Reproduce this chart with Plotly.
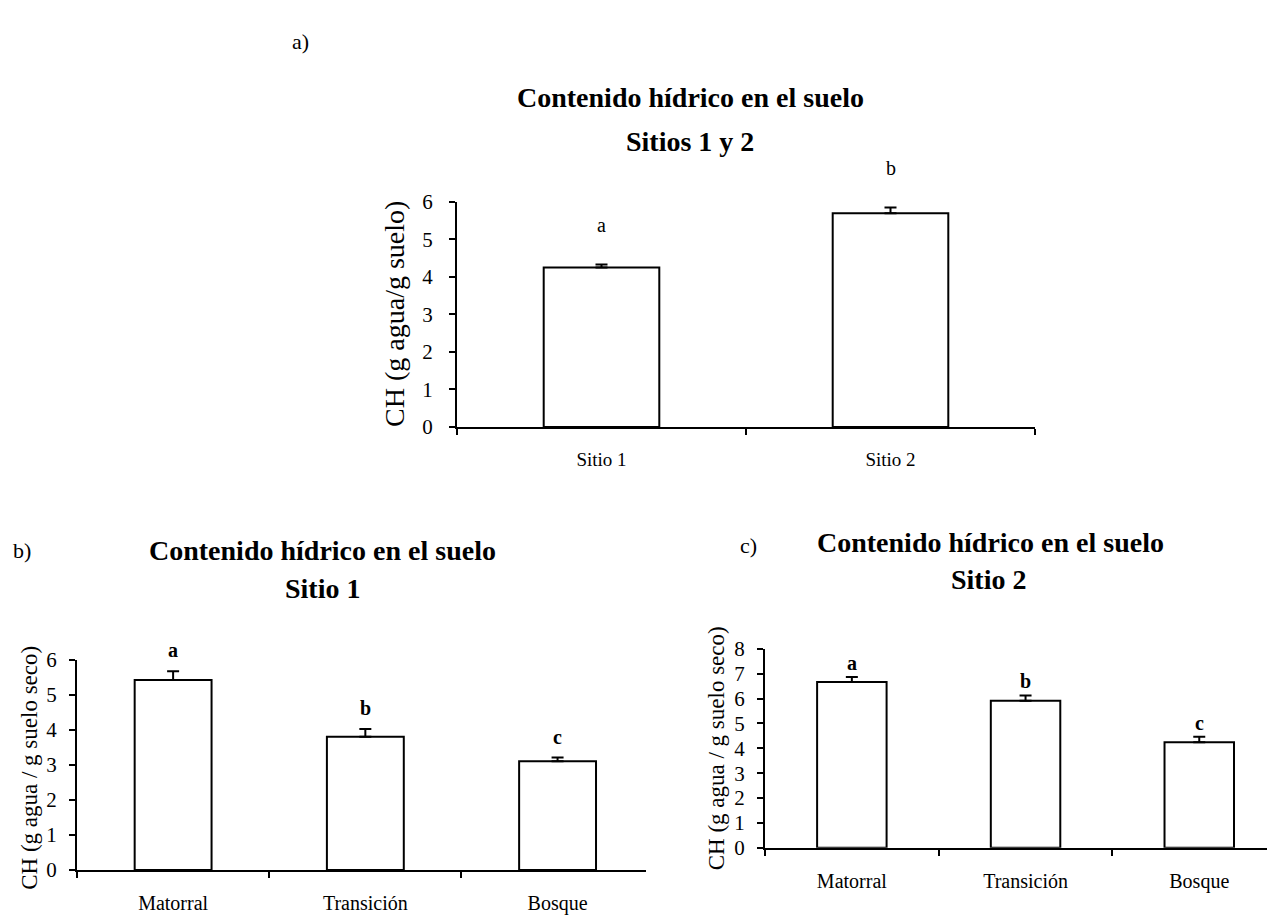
import plotly.graph_objects as go

# ---------------- data ----------------
sites = ["Sitio 1", "Sitio 2"]
ch_sites = [4.25, 5.70]
err_sites = [0.08, 0.15]
let_sites = ["a", "b"]

zones = ["Matorral", "Transición", "Bosque"]
ch_s1 = [5.42, 3.80, 3.10]
err_s1 = [0.25, 0.22, 0.11]
let_s1 = ["a", "b", "c"]

ch_s2 = [6.67, 5.92, 4.24]
err_s2 = [0.20, 0.21, 0.23]
let_s2 = ["a", "b", "c"]

FONT = "Liberation Serif, Times New Roman, serif"
W, H = 1267, 922

fig = go.Figure()

panels = [
    # x, y, err, letters, xaxis, yaxis, letter shift, bold letters
    (sites, ch_sites, err_sites, let_sites, "x", "y", 40, False),
    (zones, ch_s1, err_s1, let_s1, "x2", "y2", 21, True),
    (zones, ch_s2, err_s2, let_s2, "x3", "y3", 14, True),
]

for cats, vals, errs, lets, xa, ya, shift, bold in panels:
    fig.add_trace(go.Bar(
        x=cats, y=vals, xaxis=xa, yaxis=ya, width=0.40,
        marker=dict(color="white", line=dict(color="black", width=2)),
        error_y=dict(type="data", symmetric=False, array=errs,
                     arrayminus=[0] * len(errs), color="black",
                     thickness=2, width=6),
        showlegend=False,
    ))
    for c, v, e, l in zip(cats, vals, errs, lets):
        fig.add_annotation(x=c, y=v + e, xref=xa, yref=ya,
                           text=f"<b>{l}</b>" if bold else l,
                           showarrow=False, yanchor="middle", yshift=shift,
                           font=dict(family=FONT, size=20, color="black"))


def px_x(p):
    return p / W


def px_y(p):
    return 1 - p / H


axis_common = dict(showline=True, linecolor="black", linewidth=2,
                   ticks="outside", tickcolor="black", tickwidth=2,
                   ticklen=6, showgrid=False, zeroline=False,
                   tickfont=dict(family=FONT, color="black"))

xcat = dict(axis_common, type="category", tickson="boundaries",
            ticklabelstandoff=14)

fig.update_layout(
    width=W, height=H,
    margin=dict(l=0, r=0, t=0, b=0),
    paper_bgcolor="white", plot_bgcolor="white",
    bargap=0.6,
    xaxis=dict(xcat, domain=[px_x(457), px_x(1035)], range=[-0.5, 1.5],
               anchor="y", tickfont=dict(family=FONT, size=19, color="black")),
    yaxis=dict(axis_common, domain=[px_y(426), px_y(195)], range=[0, 6],
               dtick=1, anchor="x", ticklabelstandoff=12,
               tickfont=dict(family=FONT, size=21, color="black")),
    xaxis2=dict(xcat, domain=[px_x(77), px_x(646)], range=[-0.5, 2.46],
                anchor="y2", tickfont=dict(family=FONT, size=20, color="black")),
    yaxis2=dict(axis_common, domain=[px_y(881), px_y(665)], range=[0, 6],
                dtick=1, anchor="x2", ticklabelstandoff=8,
                tickfont=dict(family=FONT, size=21, color="black")),
    xaxis3=dict(xcat, domain=[px_x(765), 1.0], range=[-0.5, 2.39],
                anchor="y3", tickfont=dict(family=FONT, size=20, color="black")),
    yaxis3=dict(axis_common, domain=[px_y(858), px_y(654)], range=[0, 8],
                dtick=1, anchor="x3", ticklabelstandoff=8,
                tickfont=dict(family=FONT, size=21, color="black")),
)

texts = [
    ("a)", 300, 30, 22, False, 0),
    ("Contenido hídrico en el suelo", 690, 88, 28, True, 0),
    ("Sitios 1 y 2", 690, 133, 28, True, 0),
    ("b)", 22, 553, 22, False, 0),
    ("Contenido hídrico en el suelo", 322, 553, 28, True, 0),
    ("Sitio 1", 322, 592, 28, True, 0),
    ("c)", 748, 548, 22, False, 0),
    ("Contenido hídrico en el suelo", 990, 545, 28, True, 0),
    ("Sitio 2", 988, 583, 28, True, 0),
    ("CH (g agua/g suelo)", 395, 310, 28, False, -90),
    ("CH (g agua / g suelo seco)", 30, 776, 23, False, -90),
    ("CH (g agua / g suelo seco)", 716, 756, 23, False, -90),
]
for t, x, y, s, bold, ang in texts:
    fig.add_annotation(
        x=px_x(x), y=px_y(y), xref="paper", yref="paper",
        text=f"<b>{t}</b>" if bold else t, showarrow=False,
        textangle=ang, xanchor="center", yanchor="middle",
        font=dict(family=FONT, size=s, color="black"))

fig.write_html("out.html")
